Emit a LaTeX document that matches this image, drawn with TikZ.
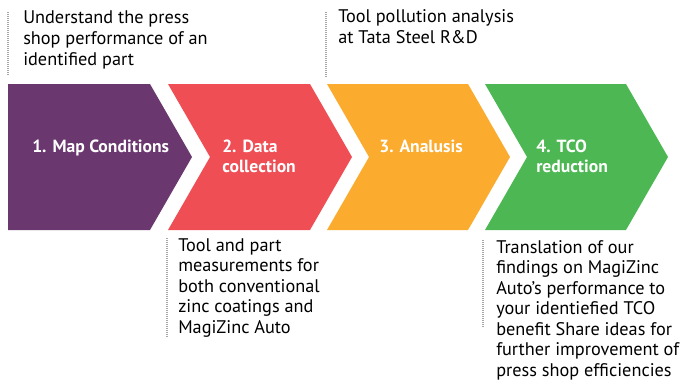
\documentclass[tikz,border=0pt]{standalone}
\usepackage{fontspec}
\setmainfont{PT Sans}
\begin{document}
\begin{tikzpicture}[x=0.75pt,y=-0.75pt,
  steplabel/.style={text=white,font=\bfseries\fontsize{13.2}{15}\selectfont,anchor=base west,inner sep=0pt,align=left},
  note/.style={anchor=north west,inner sep=0pt,align=left,font=\fontsize{13.7}{15.4}\selectfont,text=black},
  topnote/.style={note,font=\fontsize{13.7}{15.9}\selectfont},
  guide/.style={draw=black!35,line width=1.6pt,dash pattern=on 0.75pt off 0.75pt}]
\useasboundingbox (0,0) rectangle (681,383);
\definecolor{cpurple}{HTML}{6A376F}
\definecolor{cred}{HTML}{EF4E55}
\definecolor{corange}{HTML}{FBAB2D}
\definecolor{cgreen}{HTML}{4DB853}
% chevrons
\fill[cpurple] (8,84) -- (150,84) -- (192,157) -- (150,230) -- (8,230) -- cycle;
\fill[cred] (168,84) -- (310,84) -- (352,157) -- (310,230) -- (168,230) -- (210,157) -- cycle;
\fill[corange] (327,84) -- (468,84) -- (510,157) -- (468,230) -- (327,230) -- (369,157) -- cycle;
\fill[cgreen] (485,84) -- (626,84) -- (668,157) -- (626,230) -- (485,230) -- (527,157) -- cycle;
% step labels
\node[steplabel] (s1) at (32,152) {1. Map Conditions};
\node[steplabel] (s2) at (222,172) {2. Data\\collection};
\node[steplabel] (s3) at (379,152) {3. Analusis};
\node[steplabel] (s4) at (536,172) {4. TCO\\reduction};
% guide lines
\coordinate (g1a) at (8,12); \coordinate (g1b) at (8,76);
\coordinate (g2a) at (326,12); \coordinate (g2b) at (326,77);
\coordinate (g3a) at (167,238); \coordinate (g3b) at (167,337);
\coordinate (g4a) at (483,240); \coordinate (g4b) at (483,327);
\draw[guide] (g1a) -- (g1b);
\draw[guide] (g2a) -- (g2b);
\draw[guide] (g3a) -- (g3b);
\draw[guide] (g4a) -- (g4b);
% notes
\node[topnote] (n1) at (23,10) {Understand the press\\shop performance of an\\identified part};
\node[topnote] (n2) at (338,9) {Tool pollution analysis\\at Tata Steel R\&D};
\node[note] (n3) at (178,238) {Tool and part\\measurements for\\both conventional\\zinc coatings and\\MagiZinc Auto};
\node[note] (n4) at (496,240) {Translation of our\\findings on MagiZinc\\Auto’s performance to\\your identiefied TCO\\benefit Share ideas for\\further improvement of\\press shop efficiencies};
\end{tikzpicture}
\end{document}
